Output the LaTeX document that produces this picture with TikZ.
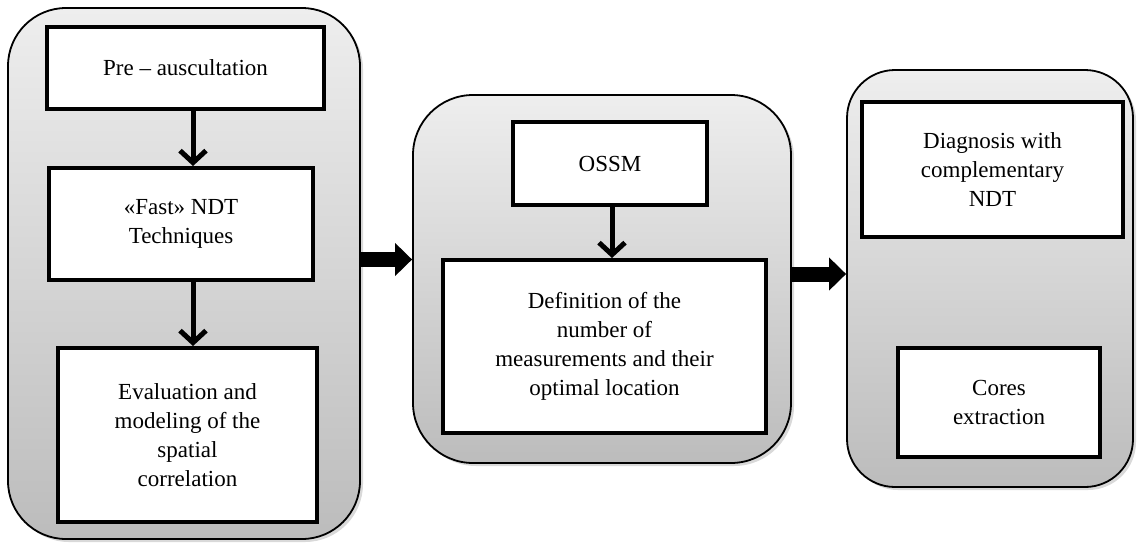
\documentclass[tikz,border=0pt]{standalone}
\usepackage{fontspec}
\setmainfont{Liberation Serif}
\usepackage{tikz}
\usetikzlibrary{arrows.meta,shadows}

\definecolor{paneltop}{RGB}{238,238,238}
\definecolor{panelbot}{RGB}{188,188,188}

\begin{document}
\begin{tikzpicture}[x=1pt,y=-1pt,
  panel/.style={draw=black,line width=1.8pt,top color=paneltop,bottom color=panelbot,
    inner sep=0pt,drop shadow={opacity=0.3,shadow xshift=3pt,shadow yshift=-3pt}},
  stage/.style={draw=black,line width=4pt,fill=white,align=center,inner sep=0pt,
    font=\fontsize{23}{29}\selectfont},
  flow/.style={line width=5pt,-{Straight Barb[length=12pt,width=26pt]}},
  bigflow/.style={line width=15pt,-{Triangle[length=17pt,width=32pt]}}]
\useasboundingbox (0,0) rectangle (1137,542);
\node[panel,rounded corners=58pt,minimum width=352pt,minimum height=531pt] (auscul) at (184,273.5) {};
\node[panel,rounded corners=60pt,minimum width=378pt,minimum height=368pt] (sampling) at (602,279) {};
\node[panel,rounded corners=48pt,minimum width=286pt,minimum height=417pt] (testing) at (990,278.5) {};
\node[stage,minimum width=277pt,minimum height=82pt] (pre) at (185.5,67.5) {Pre -- auscultation};
\node[stage,minimum width=264pt,minimum height=112pt] (fast) at (181,224) {«Fast» NDT\\Techniques};
\node[stage,minimum width=259pt,minimum height=174pt] (evalmod) at (187.5,435) {Evaluation and\\modeling of the\\spatial\\correlation};
\node[stage,minimum width=194pt,minimum height=83pt] (ossm) at (610,163.5) {OSSM};
\node[stage,minimum width=323pt,minimum height=173pt] (defin) at (604.5,346.5) {Definition of the\\number of\\measurements and their\\optimal location};
\node[stage,minimum width=261pt,minimum height=135pt] (diag) at (992.5,169.5) {Diagnosis with\\complementary\\NDT};
\node[stage,minimum width=202pt,minimum height=109pt] (cores) at (999,402.5) {Cores\\extraction};
\draw[flow] ([xshift=7.5pt]pre.south) -- ([xshift=7.5pt]pre.south |- fast.north);
\draw[flow] ([xshift=12pt]fast.south) -- ([xshift=12pt]fast.south |- evalmod.north);
\draw[flow] ([xshift=2pt]ossm.south) -- ([xshift=2pt]ossm.south |- defin.north);
\draw[bigflow] ([yshift=14pt]auscul.east) -- ([yshift=14pt]auscul.east -| sampling.west);
\draw[bigflow] ([yshift=5pt]sampling.east) -- ([yshift=5pt]sampling.east -| testing.west);
\end{tikzpicture}
\end{document}
